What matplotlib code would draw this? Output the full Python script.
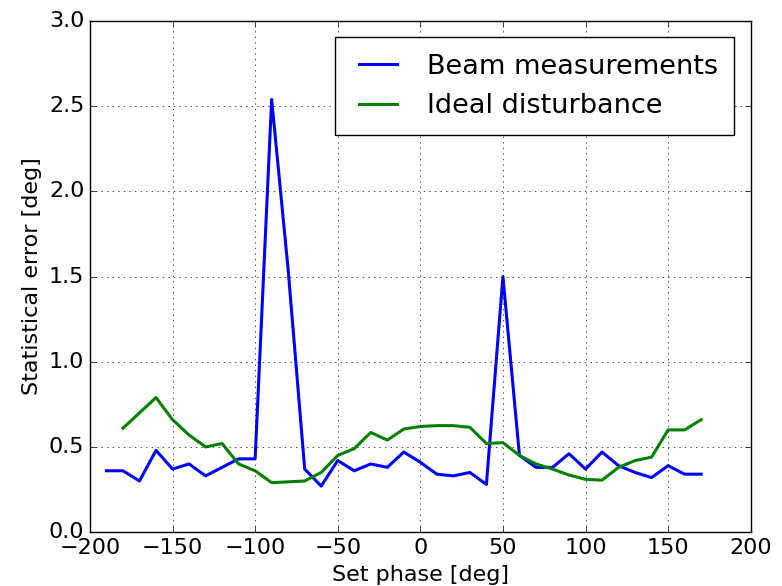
import matplotlib
matplotlib.use("Agg")
import matplotlib.pyplot as plt

# Set phase points (deg)
phase_beam = [-190, -180, -170, -160, -150, -140, -130, -120, -110, -100,
              -90, -80, -70, -60, -50, -40, -30, -20, -10, 0,
              10, 20, 30, 40, 50, 60, 70, 80, 90, 100,
              110, 120, 130, 140, 150, 160, 170]
err_beam = [0.36, 0.36, 0.30, 0.48, 0.37, 0.40, 0.33, 0.38, 0.43, 0.43,
            2.54, 1.54, 0.37, 0.27, 0.42, 0.36, 0.40, 0.38, 0.47, 0.41,
            0.34, 0.33, 0.35, 0.28, 1.50, 0.45, 0.38, 0.38, 0.46, 0.37,
            0.47, 0.39, 0.35, 0.32, 0.39, 0.34, 0.34]

phase_ideal = [-180, -170, -160, -150, -140, -130, -120, -110, -100,
               -90, -80, -70, -60, -50, -40, -30, -20, -10, 0,
               10, 20, 30, 40, 50, 60, 70, 80, 90, 100,
               110, 120, 130, 140, 150, 160, 170]
err_ideal = [0.61, 0.70, 0.79, 0.66, 0.57, 0.50, 0.52, 0.40, 0.36,
             0.29, 0.295, 0.30, 0.35, 0.45, 0.49, 0.585, 0.54, 0.605, 0.62,
             0.625, 0.625, 0.615, 0.52, 0.525, 0.45, 0.40, 0.37, 0.335, 0.31,
             0.305, 0.38, 0.42, 0.44, 0.60, 0.60, 0.66]

plt.style.use("classic")
plt.rcParams["font.size"] = 16
plt.rcParams["figure.facecolor"] = "white"

fig = plt.figure(figsize=(7.82, 5.86), dpi=100)
ax = fig.add_axes([0.115, 0.092, 0.845, 0.872])

ax.plot(phase_beam, err_beam, color="b", linewidth=2.2, label="Beam measurements")
ax.plot(phase_ideal, err_ideal, color="g", linewidth=2.2, label="Ideal disturbance")

ax.set_xlim(-200, 200)
ax.set_ylim(0, 3.0)
ax.set_xlabel("Set phase [deg]")
ax.set_ylabel("Statistical error [deg]")
ax.grid(True)
ax.legend(loc="upper right", fontsize=19.5, borderpad=0.6, borderaxespad=0.6)

fig.savefig("out.png", dpi=100)
plt.close(fig)
